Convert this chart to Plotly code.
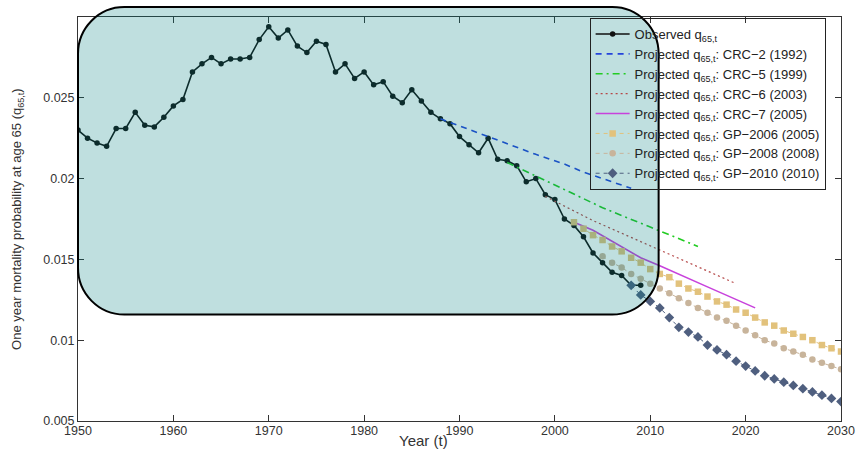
import plotly.graph_objects as go

# ---- observed one-year mortality at age 65 ----
obs_years = list(range(1950, 2010))
obs_q = [
    0.0230, 0.0225, 0.0222, 0.0220, 0.0231, 0.0231, 0.0241, 0.0233, 0.0232, 0.0238,
    0.0245, 0.0249, 0.0266, 0.0271, 0.0275, 0.0271, 0.0274, 0.0274, 0.0275, 0.0286,
    0.0294, 0.0287, 0.0292, 0.0282, 0.0278, 0.0285, 0.0283, 0.0266, 0.0271, 0.0262,
    0.0266, 0.0258, 0.0260, 0.0251, 0.0247, 0.0255, 0.0248, 0.0241, 0.0237, 0.0234,
    0.0226, 0.0221, 0.0216, 0.0225, 0.0212, 0.0211, 0.0208, 0.0198, 0.0200, 0.0190,
    0.0187, 0.0175, 0.0171, 0.0164, 0.0154, 0.0148, 0.0142, 0.0140, 0.0134, 0.0134,
]

# ---- CRC projections ----
crc2_years = [1988, 1993, 1998, 2001, 2003, 2008]
crc2_q = [0.0237, 0.0226, 0.0215, 0.0209, 0.0204, 0.0194]

crc5_years = [1995, 2000, 2005, 2010, 2015]
crc5_q = [0.0210, 0.0196, 0.0182, 0.0170, 0.0158]

crc6_years = [1999, 2004, 2009, 2014, 2019]
crc6_q = [0.0189, 0.0174, 0.0161, 0.0148, 0.0135]

crc7_years = [2002, 2004, 2009, 2011, 2016, 2021]
crc7_q = [0.0173, 0.0168, 0.0151, 0.0146, 0.0133, 0.0120]

# ---- GP projections ----
gp2006_years = list(range(2002, 2031))
gp2006_q = [
    0.0173, 0.0169, 0.0165, 0.0162, 0.0158, 0.0155, 0.0151, 0.0148, 0.0144, 0.0141,
    0.0139, 0.0135, 0.0132, 0.0130, 0.0127, 0.0124, 0.0122, 0.0119, 0.0117, 0.0114,
    0.0111, 0.0109, 0.0106, 0.0104, 0.0102, 0.0100, 0.0097, 0.0095, 0.0093,
]

gp2008_years = list(range(2005, 2031))
gp2008_q = [
    0.0152, 0.0148, 0.0145, 0.0141, 0.0138, 0.0135, 0.0132, 0.0129, 0.0126, 0.0123,
    0.0120, 0.0117, 0.0114, 0.0112, 0.0109, 0.0106, 0.0103, 0.0100, 0.0098, 0.0095,
    0.0093, 0.0091, 0.0088, 0.0086, 0.0084, 0.0082,
]

gp2010_years = list(range(2008, 2031))
gp2010_q = [
    0.0134, 0.0128, 0.0124, 0.0120, 0.0114, 0.0108, 0.0105, 0.0102, 0.0097, 0.0094,
    0.0091, 0.0087, 0.0084, 0.0081, 0.0078, 0.0076, 0.0074, 0.0072, 0.0070, 0.0068,
    0.0066, 0.0064, 0.0062,
]

x_ticks = list(range(1950, 2031, 10))
y_ticks = [0.005, 0.01, 0.015, 0.02, 0.025]
y_tick_text = ["0.005", "0.01", "0.015", "0.02", "0.025"]

Q = "q<sub>65,t</sub>"
FONT = "Liberation Sans, Arial, sans-serif"

fig = go.Figure()

fig.add_trace(go.Scatter(
    x=obs_years, y=obs_q, mode="lines+markers", name=f"Observed {Q}",
    line=dict(color="#111111", width=1.6),
    marker=dict(symbol="circle", size=5.5, color="#111111"),
))
fig.add_trace(go.Scatter(
    x=crc2_years, y=crc2_q, mode="lines", name=f"Projected {Q}: CRC\u22122 (1992)",
    line=dict(color="#2343dc", width=1.6, dash="6px,5px"),
))
fig.add_trace(go.Scatter(
    x=crc5_years, y=crc5_q, mode="lines", name=f"Projected {Q}: CRC\u22125 (1999)",
    line=dict(color="#22cc22", width=1.6, dash="7px,4px,2px,4px"),
))
fig.add_trace(go.Scatter(
    x=crc6_years, y=crc6_q, mode="lines", name=f"Projected {Q}: CRC\u22126 (2003)",
    line=dict(color="#b54848", width=1.2, dash="2px,3px"),
))
fig.add_trace(go.Scatter(
    x=crc7_years, y=crc7_q, mode="lines", name=f"Projected {Q}: CRC\u22127 (2005)",
    line=dict(color="#c842dc", width=1.6),
))
fig.add_trace(go.Scatter(
    x=gp2006_years, y=gp2006_q, mode="lines+markers",
    name=f"Projected {Q}: GP\u22122006 (2005)",
    line=dict(color="#e2c27c", width=1, dash="4px,4px"),
    marker=dict(symbol="square", size=6.5, color="#e2c27c"),
))
fig.add_trace(go.Scatter(
    x=gp2008_years, y=gp2008_q, mode="lines+markers",
    name=f"Projected {Q}: GP\u22122008 (2008)",
    line=dict(color="#c8b49b", width=1, dash="4px,4px"),
    marker=dict(symbol="circle", size=6.5, color="#c8b49b"),
))
fig.add_trace(go.Scatter(
    x=gp2010_years, y=gp2010_q, mode="lines+markers",
    name=f"Projected {Q}: GP\u22122010 (2010)",
    line=dict(color="#4f5f7f", width=1, dash="4px,4px"),
    marker=dict(symbol="diamond", size=7.5, color="#4f5f7f"),
))

# plot-area geometry in pixels
W, H = 867, 450
ML, MR, MT, MB = 78, 15, 17, 27
PW, PH = W - ML - MR, H - MT - MB


def fx(p):
    return (p - ML) / PW


def fy(p):
    return (H - MB - p) / PH


# translucent rounded highlight box over the historical period
left, right, top, bottom, r = 78, 667, 7, 316, 47
k = 0.5523 * r
pts = [
    ("M", [(left + r, top)]),
    ("L", [(right - r, top)]),
    ("C", [(right - r + k, top), (right, top + r - k), (right, top + r)]),
    ("L", [(right, bottom - r)]),
    ("C", [(right, bottom - r + k), (right - r + k, bottom), (right - r, bottom)]),
    ("L", [(left + r, bottom)]),
    ("C", [(left + r - k, bottom), (left, bottom - r + k), (left, bottom - r)]),
    ("L", [(left, top + r)]),
    ("C", [(left, top + r - k), (left + r - k, top), (left + r, top)]),
]
path = " ".join(
    cmd + " " + " ".join(f"{fx(x):.5f},{fy(y):.5f}" for x, y in coords)
    for cmd, coords in pts
) + " Z"

fig.add_shape(
    type="path", path=path, xref="paper", yref="paper", layer="above",
    fillcolor="rgba(0,126,126,0.25)", line=dict(color="black", width=2),
)

axis_common = dict(
    showline=True, linecolor="#333333", linewidth=1, mirror="ticks",
    ticks="inside", ticklen=6, tickcolor="#333333", showgrid=False, zeroline=False,
    tickfont=dict(family=FONT, size=12.5, color="#333333"),
)

fig.update_xaxes(range=[1950, 2030], tickvals=x_ticks, ticklabelstandoff=-2, **axis_common)
fig.update_yaxes(range=[0.005, 0.03], tickvals=y_ticks, ticktext=y_tick_text, **axis_common)

fig.add_annotation(
    text="Year (t)", xref="paper", yref="paper", x=fx(428), y=fy(443),
    xanchor="center", yanchor="middle", showarrow=False, borderpad=0,
    font=dict(family=FONT, size=15, color="#333333"),
)
fig.add_annotation(
    text=f"One year mortality probability at age 65 ({Q})", textangle=-90,
    xref="paper", yref="paper", x=fx(16), y=fy(220),
    xanchor="center", yanchor="middle", showarrow=False,
    font=dict(family=FONT, size=13, color="#333333"),
)

fig.update_layout(
    width=W, height=H,
    margin=dict(l=ML, r=MR, t=MT, b=MB),
    paper_bgcolor="white", plot_bgcolor="white",
    font=dict(family=FONT, color="#222222"),
    showlegend=True,
    legend=dict(
        x=fx(597), y=fy(18), xanchor="left", yanchor="top",
        bgcolor="rgba(0,0,0,0)", bordercolor="#222222", borderwidth=1,
        font=dict(family=FONT, size=13, color="#222222"),
        itemwidth=34, tracegroupgap=0,
    ),
)

fig.write_html("out.html")
